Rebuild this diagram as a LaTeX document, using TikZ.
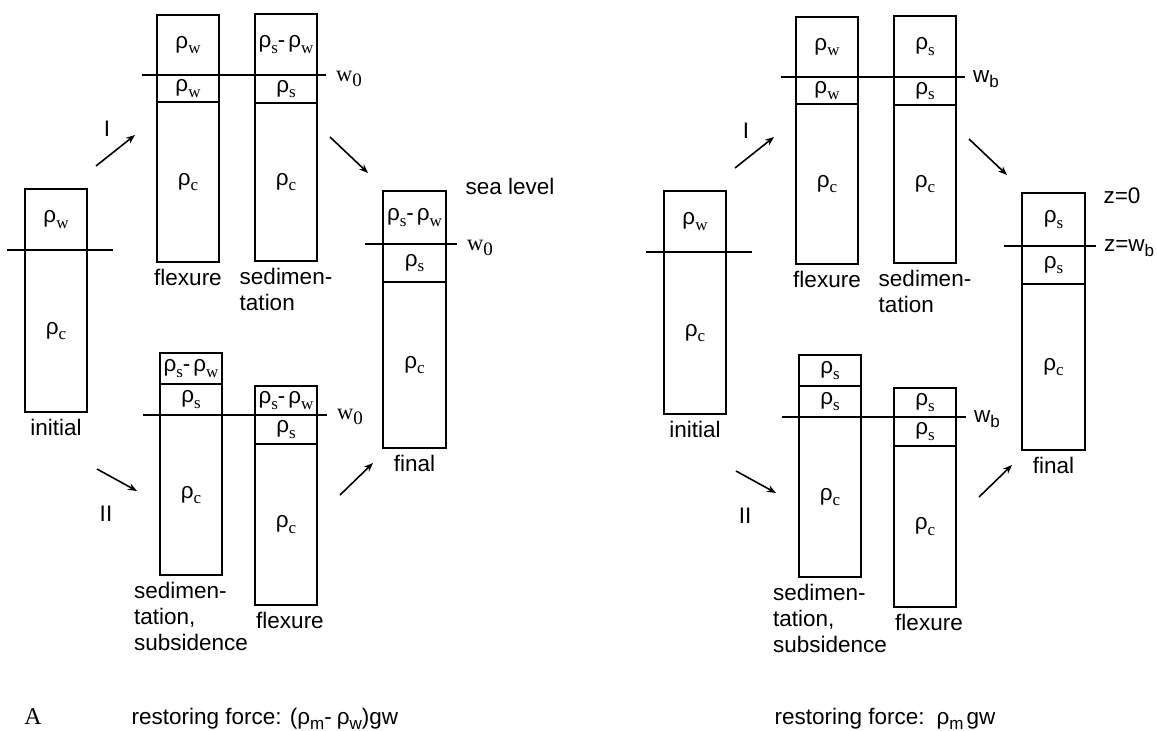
\documentclass[tikz,border=0pt]{standalone}
\usepackage{fontspec}
\setmainfont{Liberation Sans}
\newfontfamily\tms{Liberation Serif}
\usepackage{tikz}
\usetikzlibrary{arrows.meta, positioning}

% densities and levels
\newcommand{\rsub}[1]{\raisebox{-0.25em}{\tms\fontsize{17}{17}\selectfont #1}}
\newcommand{\ssub}[1]{\raisebox{-0.25em}{\fontsize{17}{17}\selectfont #1}}
\newcommand{\rh}[1]{ρ\rsub{#1}}
\newcommand{\rdiff}[2]{ρ\rsub{#1}-\hspace{3pt}ρ\rsub{#2}}
\newcommand{\wlab}[1]{{\tms w\raisebox{-0.25em}{\fontsize{19}{19}\selectfont #1}}}

\begin{document}
\begin{tikzpicture}[
    x=1pt, y=-1pt,
    every node/.style={font=\fontsize{22.5}{26}\selectfont},
    layer/.style={rectangle, draw, line width=2pt, minimum width=62pt, inner sep=0pt, outer sep=0pt, anchor=north west},
    undertext/.style={below=7pt of #1, inner sep=0pt, align=left},
    level/.style={line width=2pt},
    levellabel/.style={anchor=base west, inner sep=0pt, xshift=9pt, yshift=-6pt},
    arrow/.style={line width=1.6pt, -{Stealth[length=9pt,width=7pt]}}
]
\useasboundingbox (0,0) rectangle (1157,731);

%%% A: left panel
% initial
\node[layer, minimum height=61pt] (iw) at (25,189) {\rh{w}};
\node[layer, minimum height=162pt] (ic) at (25,250) {\rh{c}};
\node[undertext=ic] (ilab) {initial};
\draw[level] (7,250) -- (113,250);

% path I
\node[layer, minimum height=60pt] (fw) at (157,15) {\rh{w}};
\node[layer, minimum height=27pt] (fv) at (157,75) {\rh{w}};
\node[layer, minimum height=160pt] (fc) at (157,102) {\rh{c}};
\node[undertext=fc] (flab) {flexure};
\node[layer, minimum height=61pt] (sd) at (255,14) {\rdiff{s}{w}};
\node[layer, minimum height=28pt] (ss) at (255,75) {\rh{s}};
\node[layer, minimum height=158pt] (sc) at (255,103) {\rh{c}};
\node[undertext=sc] (slab) {sedimen-\\tation};
\draw[level] (142,75) -- (326,75) node[levellabel] (wtop) {\wlab{0}};

% final
\node[layer, minimum width=63pt, minimum height=53pt] (nd) at (383,191) {\rdiff{s}{w}};
\node[layer, minimum width=63pt, minimum height=38pt] (ns) at (383,244) {\rh{s}};
\node[layer, minimum width=63pt, minimum height=166pt] (nc) at (383,282) {\rh{c}};
\node[undertext=nc] (nlab) {final};
\draw[level] (365,244) -- (457,244) node[levellabel] (wfin) {\wlab{0}};
\node[anchor=base west] (sea) at (462,194) {sea level};

% path II
\node[layer, minimum height=31pt] (bd) at (160,353) {\rdiff{s}{w}};
\node[layer, minimum height=31pt] (bs) at (160,384) {\rh{s}};
\node[layer, minimum height=160pt] (bc) at (160,415) {\rh{c}};
\node[undertext=bc] (blab) {sedimen-\\tation,\\subsidence};
\node[layer, minimum height=29pt] (gd) at (255,386) {\rdiff{s}{w}};
\node[layer, minimum height=29pt] (gs) at (255,415) {\rh{s}};
\node[layer, minimum height=161pt] (gc) at (255,444) {\rh{c}};
\node[undertext=gc, xshift=4pt] (glab) {flexure};
\draw[level] (143,415) -- (327,415) node[levellabel, yshift=2pt] (wbot) {\wlab{0}};

% arrows
\coordinate (p1) at (96,166);
\coordinate (p2) at (135,135);
\coordinate (p3) at (330,137);
\coordinate (p4) at (368,173);
\coordinate (p5) at (97,469);
\coordinate (p6) at (137,491);
\coordinate (p7) at (340,495);
\coordinate (p8) at (373,463);
\draw[arrow] (p1) -- (p2);
\draw[arrow] (p3) -- (p4);
\draw[arrow] (p5) -- (p6);
\draw[arrow] (p7) -- (p8);
\node (nI) at (107,129) {I};
\node (nII) at (106,514) {II};

\node[anchor=base, font=\tms\fontsize{24}{24}\selectfont] (A) at (33,724) {A};
\node[anchor=base west] (rfa) at (128,724) {restoring force: (ρ\ssub{m}-\hspace{5pt}ρ\ssub{w})gw};

%%% right panel
\begin{scope}[shift={(639,2)}]
% initial
\node[layer, minimum height=61pt] (riw) at (25,189) {\rh{w}};
\node[layer, minimum height=162pt] (ric) at (25,250) {\rh{c}};
\node[undertext=ric] (rilab) {initial};
\draw[level] (7,250) -- (113,250);

% path I
\node[layer, minimum height=60pt] (rfw) at (157,15) {\rh{w}};
\node[layer, minimum height=27pt] (rfv) at (157,75) {\rh{w}};
\node[layer, minimum height=160pt] (rfc) at (157,102) {\rh{c}};
\node[undertext=rfc] (rflab) {flexure};
\node[layer, minimum height=61pt] (rsd) at (255,14) {\rh{s}};
\node[layer, minimum height=28pt] (rss) at (255,75) {\rh{s}};
\node[layer, minimum height=158pt] (rsc) at (255,103) {\rh{c}};
\node[undertext=rsc] (rslab) {sedimen-\\tation};
\draw[level] (142,75) -- (326,75) node[levellabel, xshift=-2pt, yshift=1pt] (rwtop) {w\ssub{b}};

% final
\node[layer, minimum width=63pt, minimum height=53pt] (rnd) at (383,191) {\rh{s}};
\node[layer, minimum width=63pt, minimum height=38pt] (rns) at (383,244) {\rh{s}};
\node[layer, minimum width=63pt, minimum height=166pt] (rnc) at (383,282) {\rh{c}};
\node[undertext=rnc] (rnlab) {final};
\draw[level] (365,244) -- (457,244) node[levellabel, xshift=-2pt, yshift=1pt] (rwfin) {z=w\ssub{b}};
\node[anchor=base west] (zero) at (461,201) {z=0};

% path II
\node[layer, minimum height=31pt] (rbd) at (160,353) {\rh{s}};
\node[layer, minimum height=31pt] (rbs) at (160,384) {\rh{s}};
\node[layer, minimum height=160pt] (rbc) at (160,415) {\rh{c}};
\node[undertext=rbc] (rblab) {sedimen-\\tation,\\subsidence};
\node[layer, minimum height=29pt] (rgd) at (255,386) {\rh{s}};
\node[layer, minimum height=29pt] (rgs) at (255,415) {\rh{s}};
\node[layer, minimum height=161pt] (rgc) at (255,444) {\rh{c}};
\node[undertext=rgc, xshift=4pt] (rglab) {flexure};
\draw[level] (143,415) -- (327,415) node[levellabel, xshift=-2pt, yshift=1pt] (rwbot) {w\ssub{b}};

% arrows
\coordinate (q1) at (96,166);
\coordinate (q2) at (135,135);
\coordinate (q3) at (330,137);
\coordinate (q4) at (368,173);
\coordinate (q5) at (97,469);
\coordinate (q6) at (137,491);
\coordinate (q7) at (340,495);
\coordinate (q8) at (373,463);
\draw[arrow] (q1) -- (q2);
\draw[arrow] (q3) -- (q4);
\draw[arrow] (q5) -- (q6);
\draw[arrow] (q7) -- (q8);
\node (rnI) at (107,129) {I};
\node (rnII) at (106,514) {II};
\end{scope}

\node[anchor=base west] (rfb) at (771,724) {restoring force:\hspace{12pt}ρ\ssub{m}\hspace{3pt}gw};
\end{tikzpicture}
\end{document}
